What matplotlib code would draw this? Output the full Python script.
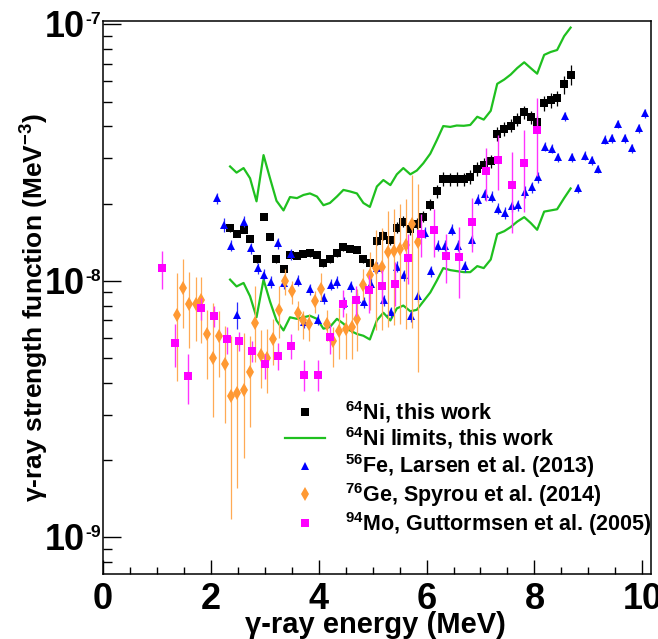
import numpy as np
import matplotlib
matplotlib.use("Agg")
import matplotlib.pyplot as plt
import matplotlib.transforms as mtransforms
from matplotlib.ticker import MultipleLocator, FixedLocator, LogLocator, NullFormatter
from matplotlib.lines import Line2D

plt.rcParams['font.family'] = ['Liberation Sans', 'DejaVu Sans']
plt.rcParams['font.weight'] = 'bold'
plt.rcParams['mathtext.fontset'] = 'custom'
plt.rcParams['mathtext.rm'] = 'Liberation Sans:bold'
plt.rcParams['mathtext.bf'] = 'Liberation Sans:bold'
plt.rcParams['mathtext.it'] = 'Liberation Sans:bold:italic'
plt.rcParams['mathtext.default'] = 'rm'

# ---------------- data ----------------
# 64Ni, this work
ni_e = [2.36, 2.48, 2.61, 2.73, 2.85, 2.98, 3.10, 3.22, 3.35, 3.47, 3.60, 3.72, 3.84, 3.97,
        4.09, 4.21, 4.34, 4.46, 4.58, 4.71, 4.83, 4.95, 5.08, 5.20, 5.33, 5.45, 5.57, 5.70,
        5.82, 5.94, 6.07, 6.19, 6.31, 6.44, 6.56, 6.69, 6.81, 6.94, 7.06, 7.19, 7.31, 7.44,
        7.56, 7.68, 7.81, 7.93, 8.05, 8.18, 8.30, 8.42, 8.55, 8.67]
ni_f = [1.60e-8, 1.52e-8, 1.58e-8, 1.46e-8, 1.21e-8, 1.78e-8, 1.48e-8, 1.21e-8, 1.11e-8, 1.26e-8,
        1.25e-8, 1.27e-8, 1.28e-8, 1.26e-8, 1.17e-8, 1.21e-8, 1.28e-8, 1.35e-8, 1.33e-8, 1.32e-8,
        1.21e-8, 1.17e-8, 1.43e-8, 1.50e-8, 1.44e-8, 1.61e-8, 1.70e-8, 1.59e-8, 1.67e-8, 1.78e-8,
        1.98e-8, 2.23e-8, 2.50e-8, 2.49e-8, 2.50e-8, 2.49e-8, 2.54e-8, 2.73e-8, 2.83e-8, 2.93e-8,
        3.74e-8, 3.91e-8, 4.03e-8, 4.25e-8, 4.53e-8, 4.34e-8, 4.15e-8, 4.93e-8, 5.05e-8, 5.15e-8,
        5.83e-8, 6.36e-8]
ni_rel = [0.03, 0.03, 0.03, 0.03, 0.03, 0.03, 0.03, 0.03, 0.03, 0.03, 0.03, 0.03, 0.03, 0.03,
          0.03, 0.03, 0.03, 0.03, 0.03, 0.03, 0.03, 0.03, 0.04, 0.04, 0.04, 0.05, 0.05, 0.05,
          0.05, 0.05, 0.05, 0.06, 0.06, 0.06, 0.06, 0.06, 0.06, 0.06, 0.06, 0.06, 0.06, 0.06,
          0.06, 0.06, 0.06, 0.06, 0.06, 0.07, 0.07, 0.07, 0.08, 0.09]
# 64Ni limits
ni_hi = [2.79e-8, 2.64e-8, 2.75e-8, 2.51e-8, 2.04e-8, 3.09e-8, 2.51e-8, 2.05e-8, 1.88e-8, 2.12e-8,
         2.10e-8, 2.16e-8, 2.19e-8, 2.13e-8, 1.97e-8, 2.01e-8, 2.13e-8, 2.26e-8, 2.23e-8, 2.19e-8,
         2.01e-8, 1.94e-8, 2.33e-8, 2.47e-8, 2.36e-8, 2.60e-8, 2.75e-8, 2.60e-8, 2.69e-8, 2.87e-8,
         3.13e-8, 3.53e-8, 4.01e-8, 3.98e-8, 4.03e-8, 4.02e-8, 4.05e-8, 4.36e-8, 4.25e-8, 4.60e-8,
         5.86e-8, 6.09e-8, 6.37e-8, 6.75e-8, 7.11e-8, 6.75e-8, 6.42e-8, 7.60e-8, 7.80e-8, 7.94e-8,
         8.99e-8, 9.71e-8]
ni_lo = [10.1e-9, 9.5e-9, 9.8e-9, 8.7e-9, 7.2e-9, 10.1e-9, 8.3e-9, 7.0e-9, 6.4e-9, 7.2e-9,
         7.1e-9, 7.2e-9, 7.3e-9, 7.1e-9, 6.5e-9, 6.6e-9, 7.1e-9, 6.8e-9, 6.4e-9, 6.2e-9,
         6.1e-9, 5.9e-9, 7.0e-9, 7.5e-9, 7.0e-9, 7.8e-9, 8.0e-9, 7.6e-9, 7.7e-9, 8.3e-9,
         9.0e-9, 10.0e-9, 11.2e-9, 11.0e-9, 10.9e-9, 10.8e-9, 10.8e-9, 11.4e-9, 11.2e-9, 12.1e-9,
         15.2e-9, 15.6e-9, 16.2e-9, 17.0e-9, 17.7e-9, 16.8e-9, 15.8e-9, 18.6e-9, 18.8e-9, 19.0e-9,
         21.0e-9, 22.9e-9]
# 56Fe, Larsen et al. (2013)
fe_e = [2.11, 2.25, 2.37, 2.49, 2.62, 2.74, 2.87, 2.99, 3.11, 3.24, 3.36, 3.48, 3.61, 3.73,
        3.85, 3.98, 4.10, 4.23, 4.35, 4.47, 4.60, 4.72, 4.84, 4.97, 5.09, 5.21, 5.34, 5.46,
        5.58, 5.71, 5.84, 5.97, 6.09, 6.22, 6.34, 6.47, 6.59, 6.71, 6.84, 6.96, 7.09, 7.21,
        7.33, 7.46, 7.58, 7.70, 7.83, 7.95, 8.07, 8.20, 8.32, 8.44, 8.57, 8.69, 8.81, 8.94,
        9.06, 9.18, 9.31, 9.43, 9.55, 9.68, 9.80, 9.93, 10.05]
fe_f = [2.10e-8, 1.65e-8, 1.37e-8, 0.738e-8, 1.70e-8, 1.34e-8, 1.12e-8, 1.055e-8, 0.99e-8, 1.40e-8,
        0.98e-8, 1.27e-8, 1.00e-8, 0.69e-8, 0.926e-8, 0.705e-8, 0.853e-8, 0.965e-8, 0.99e-8, 0.82e-8,
        0.95e-8, 0.852e-8, 0.825e-8, 0.975e-8, 1.125e-8, 0.84e-8, 0.752e-8, 1.135e-8, 1.05e-8, 0.728e-8,
        0.873e-8, 1.54e-8, 1.09e-8, 1.37e-8, 1.37e-8, 1.58e-8, 1.37e-8, 1.14e-8, 1.44e-8, 2.07e-8,
        2.17e-8, 2.13e-8, 1.91e-8, 1.84e-8, 1.95e-8, 1.97e-8, 2.22e-8, 2.31e-8, 2.53e-8, 3.33e-8,
        3.27e-8, 3.03e-8, 4.38e-8, 3.03e-8, 2.30e-8, 3.07e-8, 2.95e-8, 2.73e-8, 3.55e-8, 3.59e-8,
        4.09e-8, 3.59e-8, 3.28e-8, 3.93e-8, 4.51e-8]
fe_rel = [0.05, 0.06, 0.05, 0.12, 0.05, 0.05, 0.05, 0.05, 0.05, 0.05, 0.05, 0.05, 0.05, 0.05,
          0.05, 0.05, 0.05, 0.05, 0.05, 0.05, 0.05, 0.05, 0.05, 0.05, 0.05, 0.05, 0.05, 0.05,
          0.05, 0.05, 0.05, 0.05, 0.05, 0.05, 0.05, 0.05, 0.05, 0.05, 0.05, 0.05, 0.05, 0.05,
          0.05, 0.05, 0.05, 0.05, 0.05, 0.05, 0.05, 0.04, 0.04, 0.04, 0.04, 0.04, 0.04, 0.04,
          0.04, 0.04, 0.04, 0.04, 0.04, 0.04, 0.04, 0.04, 0.04]
# 76Ge, Spyrou et al. (2014)
ge_e = [1.38, 1.49, 1.60, 1.72, 1.83, 1.94, 2.05, 2.16, 2.27, 2.38, 2.49, 2.61, 2.72, 2.83,
        2.94, 3.05, 3.16, 3.27, 3.38, 3.50, 3.61, 3.72, 3.83, 3.94, 4.05, 4.16, 4.27, 4.38,
        4.50, 4.61, 4.72, 4.83, 4.95, 5.06, 5.17, 5.28, 5.39, 5.51, 5.62, 5.73, 5.84]
ge_f = [7.38e-9, 9.35e-9, 8.13e-9, 8.13e-9, 8.38e-9, 6.18e-9, 4.99e-9, 6.09e-9, 4.74e-9, 3.56e-9,
        3.64e-9, 3.74e-9, 4.42e-9, 6.86e-9, 5.13e-9, 4.99e-9, 5.91e-9, 7.71e-9, 10.0e-9, 9.12e-9,
        7.5e-9, 7.0e-9, 6.76e-9, 8.3e-9, 9.26e-9, 6.8e-9, 5.82e-9, 6.35e-9, 6.46e-9, 6.6e-9,
        7.08e-9, 9.6e-9, 10.5e-9, 11.2e-9, 11.3e-9, 13.0e-9, 13.1e-9, 13.3e-9, 13.8e-9, 16.6e-9,
        14.1e-9]
ge_lo = [4.06e-9, 6.56e-9, 5.45e-9, 5.82e-9, 5.74e-9, 4.15e-9, 2.94e-9, 4.2e-9, 2.78e-9, 1.18e-9,
         1.55e-9, 2.03e-9, 2.7e-9, 4.8e-9, 3.8e-9, 3.64e-9, 4.7e-9, 6.0e-9, 8.8e-9, 8.1e-9,
         6.45e-9, 5.9e-9, 5.8e-9, 7.5e-9, 8.3e-9, 5.8e-9, 4.6e-9, 4.95e-9, 4.95e-9, 4.95e-9,
         5.3e-9, 8.4e-9, 7.7e-9, 6.4e-9, 6.4e-9, 6.6e-9, 6.7e-9, 6.8e-9, 6.5e-9, 6.56e-9,
         4.4e-9]
ge_hi = [10.7e-9, 12.1e-9, 10.8e-9, 10.3e-9, 10.3e-9, 7.71e-9, 8.19e-9, 7.6e-9, 6.63e-9, 6.09e-9,
         5.82e-9, 6.25e-9, 6.09e-9, 9.5e-9, 6.4e-9, 6.46e-9, 7.07e-9, 9.5e-9, 11.1e-9, 10.0e-9,
         8.3e-9, 7.6e-9, 7.4e-9, 9.1e-9, 10.7e-9, 7.7e-9, 6.6e-9, 7.8e-9, 7.5e-9, 8.3e-9,
         9.3e-9, 11.1e-9, 13.0e-9, 15.7e-9, 16.0e-9, 18.7e-9, 19.0e-9, 20.0e-9, 20.9e-9, 25.9e-9,
         23.8e-9]
# 94Mo, Guttormsen et al. (2005)
mo_e = [1.09, 1.34, 1.58, 1.82, 2.06, 2.30, 2.53, 2.77, 3.01, 3.25, 3.49, 3.73, 3.98, 4.21,
        4.46, 4.69, 4.94, 5.17, 5.41, 5.65, 5.89, 6.13, 6.37, 6.61, 6.85, 7.10, 7.33, 7.58,
        7.81, 8.05]
mo_f = [11.2e-9, 5.71e-9, 4.25e-9, 7.83e-9, 7.28e-9, 5.95e-9, 5.82e-9, 5.33e-9, 4.72e-9, 5.1e-9,
        5.55e-9, 4.3e-9, 4.28e-9, 6.05e-9, 8.1e-9, 8.43e-9, 9.2e-9, 9.55e-9, 9.7e-9, 12.3e-9,
        15.2e-9, 15.7e-9, 12.45e-9, 12.35e-9, 17.0e-9, 26.7e-9, 29.7e-9, 23.7e-9, 28.7e-9, 38.6e-9]
mo_lo = [9.3e-9, 4.6e-9, 3.3e-9, 7.0e-9, 6.6e-9, 5.2e-9, 5.3e-9, 4.8e-9, 4.15e-9, 4.5e-9,
         4.95e-9, 3.7e-9, 3.7e-9, 5.2e-9, 7.2e-9, 7.3e-9, 7.5e-9, 8.1e-9, 8.0e-9, 9.7e-9,
         12.4e-9, 12.4e-9, 9.8e-9, 8.6e-9, 13.0e-9, 20.4e-9, 22.5e-9, 15.4e-9, 18.6e-9, 25.5e-9]
mo_hi = [13.1e-9, 6.8e-9, 5.2e-9, 8.6e-9, 7.95e-9, 6.6e-9, 6.3e-9, 5.8e-9, 5.2e-9, 5.7e-9,
         6.2e-9, 4.9e-9, 4.9e-9, 6.7e-9, 9.2e-9, 9.5e-9, 10.5e-9, 11.0e-9, 11.8e-9, 15.2e-9,
         18.2e-9, 19.0e-9, 15.2e-9, 16.2e-9, 21.0e-9, 33.0e-9, 37.0e-9, 31.8e-9, 38.6e-9, 51.8e-9]

labels = [r'$^{64}$Ni, this work', r'$^{64}$Ni limits, this work',
          r'$^{56}$Fe, Larsen et al. (2013)', r'$^{76}$Ge, Spyrou et al. (2014)',
          r'$^{94}$Mo, Guttormsen et al. (2005)']
x_ticks = [0, 2, 4, 6, 8, 10]
y_ticks = [1e-9, 1e-8, 1e-7]
y_tick_exps = ['-9', '-8', '-7']

# ---------------- plot ----------------
GREEN = '#1fc01f'
ORANGE = '#ff9933'
fig = plt.figure(figsize=(6.58, 6.39), dpi=100)
ax = fig.add_axes([0.1561, 0.1022, 0.8333, 0.8654])

ax.plot(ni_e, ni_hi, color=GREEN, lw=1.6, zorder=2)
ax.plot(ni_e, ni_lo, color=GREEN, lw=1.6, zorder=2)

ni_f_a = np.array(ni_f); ni_err = ni_f_a * np.array(ni_rel)
ax.errorbar(ni_e, ni_f, yerr=ni_err, fmt='s', color='black', ms=5.2, mew=0,
            elinewidth=0.9, capsize=2.6, capthick=0.9, zorder=3)

fe_f_a = np.array(fe_f); fe_err = fe_f_a * np.array(fe_rel)
ax.errorbar(fe_e, fe_f, yerr=fe_err, fmt='^', color='#0000ff', ms=6.0, mew=0,
            elinewidth=0.9, capsize=2.4, capthick=0.9, ecolor='#2a2aff', zorder=4)

ge_f_a = np.array(ge_f)
ge_err = [ge_f_a - np.array(ge_lo), np.array(ge_hi) - ge_f_a]
ax.errorbar(ge_e, ge_f, yerr=ge_err, fmt='d', color=ORANGE, ms=7.5, mew=0,
            elinewidth=0.9, capsize=2.0, capthick=0.9, ecolor='#ffaa55', zorder=5)

mo_f_a = np.array(mo_f)
mo_err = [mo_f_a - np.array(mo_lo), np.array(mo_hi) - mo_f_a]
ax.errorbar(mo_e, mo_f, yerr=mo_err, fmt='s', color='#ff00ff', ms=5.5, mew=0,
            elinewidth=1.0, capsize=2.0, capthick=1.0, ecolor='#ff33ff', zorder=6)

ax.set_yscale('log')
ax.set_xlim(0, 10.16)
ax.set_ylim(7.2e-10, 1.033e-7)

ax.xaxis.set_major_locator(FixedLocator(x_ticks))
ax.set_xticklabels([str(t) for t in x_ticks])
ax.xaxis.set_minor_locator(MultipleLocator(0.5))
ax.yaxis.set_major_locator(FixedLocator(y_ticks))
ax.set_yticklabels([])
ax.yaxis.set_minor_locator(LogLocator(base=10, subs=np.arange(2, 10)))
ax.yaxis.set_minor_formatter(NullFormatter())

ax.tick_params(axis='both', which='both', direction='in', top=False, right=False,
               labelsize=26, width=1.0)
ax.tick_params(axis='x', which='major', length=10, pad=6)
ax.tick_params(axis='x', which='minor', length=5)
ax.tick_params(axis='y', which='major', length=13, pad=5)
ax.tick_params(axis='y', which='minor', length=6.5)
for sp in ax.spines.values():
    sp.set_linewidth(1.1)

# y tick labels: "10" with a small superscript exponent (ROOT style)
blend = mtransforms.blended_transform_factory(ax.transAxes, ax.transData)
base_tr = mtransforms.offset_copy(blend, fig=fig, x=0, y=-13, units='dots')
for v, ex in zip(y_ticks, y_tick_exps):
    ax.text(-0.032, v, '10', transform=base_tr, ha='right', va='baseline',
            fontsize=26, fontweight='bold', clip_on=False)
    ax.text(-0.032, v, ex, transform=blend, ha='left', va='baseline',
            fontsize=12.6, fontweight='bold', clip_on=False)

ax.set_xlabel('γ-ray energy (MeV)', fontsize=21, fontweight='bold')
ax.xaxis.set_label_coords(0.497, -0.067)
ax.set_ylabel('γ-ray strength function (MeV$^{-3}$)', fontsize=19, fontweight='bold')
ax.yaxis.set_label_coords(-0.095, 0.482)

handles = [Line2D([], [], ls='none', marker='s', color='black', ms=5.2, mew=0),
           Line2D([], [], color=GREEN, lw=1.6),
           Line2D([], [], ls='none', marker='^', color='#0000ff', ms=6.0, mew=0),
           Line2D([], [], ls='none', marker='d', color=ORANGE, ms=7.5, mew=0),
           Line2D([], [], ls='none', marker='s', color='#ff00ff', ms=5.2, mew=0)]
leg = ax.legend(handles, labels, loc='upper left', bbox_to_anchor=(0.3325, 0.3165),
                frameon=False, fontsize=15.5, handlelength=1.85, handletextpad=0.95,
                labelspacing=0.04, borderpad=0, borderaxespad=0)
for t in leg.get_texts():
    t.set_fontweight('bold')

fig.savefig('out.png', dpi=100)
